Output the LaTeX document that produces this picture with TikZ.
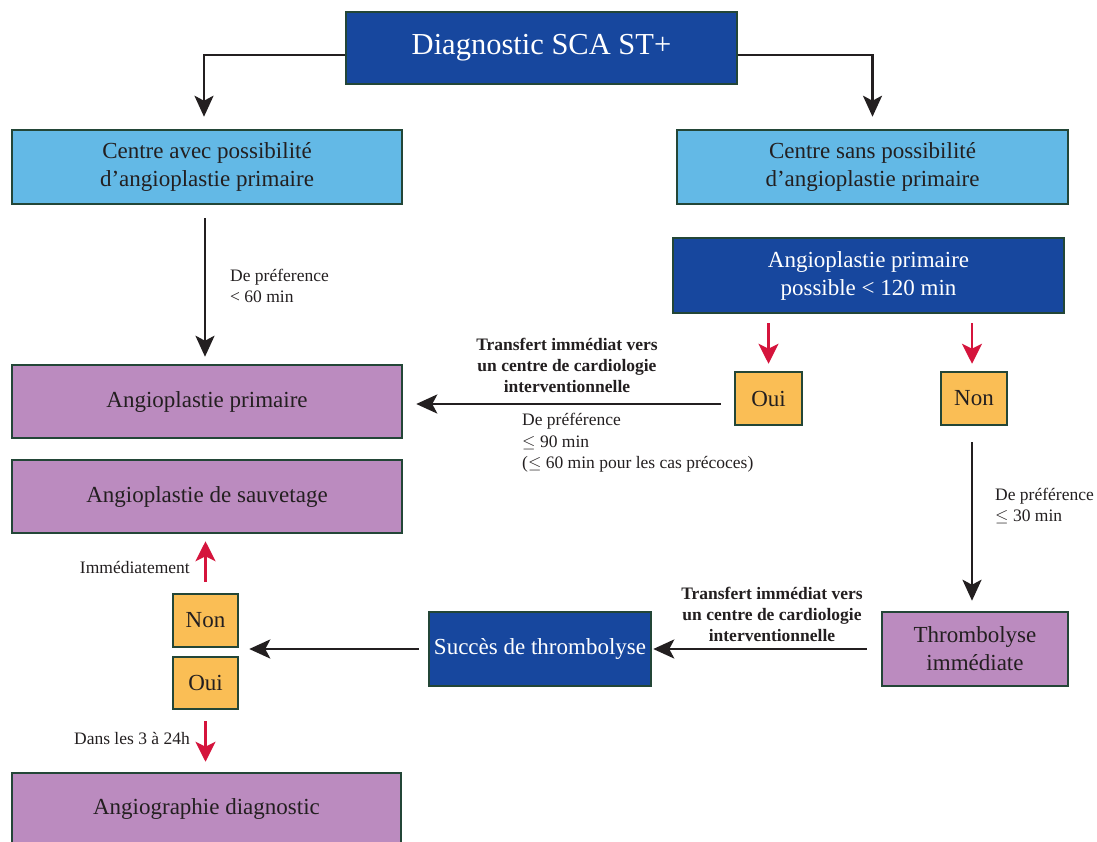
\documentclass[tikz,border=0pt]{standalone}
\usepackage{fontspec}
\setmainfont{Liberation Serif}
\usetikzlibrary{arrows.meta}
\definecolor{dblue}{RGB}{23,71,158}
\definecolor{lblue}{RGB}{99,185,230}
\definecolor{mauve}{RGB}{187,139,191}
\definecolor{oran}{RGB}{250,190,85}
\definecolor{bord}{RGB}{35,70,55}
\definecolor{redar}{RGB}{213,20,60}
\definecolor{txt}{RGB}{35,31,32}
\tikzset{
  box/.style={draw=bord, line width=2.5pt, rectangle, inner sep=2pt, align=center, text=txt,
    font=\fontsize{23}{28}\selectfont},
  bluebox/.style={box, fill=dblue, text=white},
  skybox/.style={box, fill=lblue},
  mbox/.style={box, fill=mauve},
  obox/.style={box, fill=oran},
  arr/.style={draw=txt, line width=2.8pt, -{Stealth[length=21pt,width=19pt,inset=5pt]}},
  rarr/.style={draw=redar, line width=2.8pt, -{Stealth[length=20pt,width=20pt,inset=5pt]}},
  lbl/.style={text=txt, align=left, inner sep=0pt, font=\fontsize{17.5}{21.5}\selectfont},
  blbl/.style={text=txt, align=center, inner sep=0pt, font=\fontsize{17.5}{21}\selectfont\bfseries},
}
\begin{document}
\begin{tikzpicture}[x=1pt,y=-1pt]
\useasboundingbox (0,0) rectangle (1097,841);
\fill[white] (0,0) rectangle (1097,841);

\node[bluebox, minimum width=391pt, minimum height=72pt, font=\fontsize{30.5}{36}\selectfont] (diag) at (541.5,48) {Diagnostic SCA ST+};
\node[skybox, minimum width=390pt, minimum height=74pt] (cavec) at (207,167) {Centre avec possibilité\\d’angioplastie primaire};
\node[skybox, minimum width=391pt, minimum height=74pt] (csans) at (872.5,167) {Centre sans possibilité\\d’angioplastie primaire};
\node[bluebox, minimum width=391pt, minimum height=75pt] (apposs) at (868.5,275.5) {Angioplastie primaire\\possible < 120 min};
\node[obox, minimum width=67pt, minimum height=53pt] (ouiR) at (768.5,398.5) {Oui};
\node[obox, minimum width=66pt, minimum height=53pt] (nonR) at (974,398.5) {Non};
\node[mbox, minimum width=390pt, minimum height=73pt] (angprim) at (207,401.5) {Angioplastie primaire};
\node[mbox, minimum width=390pt, minimum height=73pt] (sauv) at (207,496.5) {Angioplastie de sauvetage};
\node[obox, minimum width=65pt, minimum height=53pt] (nonL) at (205.5,620.5) {Non};
\node[obox, minimum width=65pt, minimum height=52pt] (ouiL) at (205.5,683) {Oui};
\node[mbox, minimum width=389pt, minimum height=74pt] (angio) at (206.5,810) {};
\node[text=txt, font=\fontsize{23}{28}\selectfont] (angiot) at (206.5,809) {Angiographie diagnostic};
\node[bluebox, minimum width=222pt, minimum height=74pt] (succes) at (540,649) {Succès de thrombolyse};
\node[mbox, minimum width=186pt, minimum height=74pt] (thromb) at (975,649) {Thrombolyse\\immédiate};

% top elbows
\draw[arr] ([yshift=-7pt]diag.west) -| ([xshift=-3pt,yshift=12pt]cavec.north);
\draw[arr] ([yshift=-7pt]diag.east) -| ([yshift=12pt]csans.north);

% left vertical
\draw[arr, shorten <=13pt, shorten >=7pt] ([xshift=-2pt]cavec.south) -- ([xshift=-2pt]angprim.north);
\node[lbl, anchor=west] (l1) at (230,286) {De préference\\< 60 min};

% red arrows from apposs
\draw[rarr, shorten <=9pt, shorten >=7pt] (ouiR.north |- apposs.south) -- (ouiR.north);
\draw[rarr, shorten <=9pt, shorten >=7pt] ([xshift=-2pt]nonR.north |- apposs.south) -- ([xshift=-2pt]nonR.north);

% Oui -> angioplastie primaire
\draw[arr, shorten <=13pt, shorten >=13pt] ([yshift=-5.5pt]ouiR.west) -- ([yshift=-5.5pt]ouiR.west -| angprim.east);
\node[blbl] (t1) at (567,365) {Transfert immédiat vers\\un centre de cardiologie\\interventionnelle};
\node[lbl, anchor=north west] (l2) at (522,413) {De préférence\\$\leq$ 90 min\\($\leq$ 60 min pour les cas précoces)};

% Non -> thrombolyse
\draw[arr, shorten <=16pt, shorten >=10pt] ([xshift=-2pt]nonR.south) -- ([xshift=-2pt]nonR.south |- thromb.north);
\node[lbl, anchor=west] (l3) at (995,506) {De préférence\\$\leq$ 30 min};

% thrombolyse -> succes
\draw[arr, shorten <=14pt, shorten >=1pt] (thromb.west) -- (succes.east);
\node[blbl] (t2) at (772,614) {Transfert immédiat vers\\un centre de cardiologie\\interventionnelle};

% succes -> non/oui
\draw[arr, shorten <=9pt, shorten >=10pt] (succes.west) -- (nonL.east |- succes.west);

% red left
\draw[rarr, shorten <=11pt, shorten >=7pt] (nonL.north) -- (nonL.north |- sauv.south);
\node[lbl, anchor=east] (l4) at (190,567) {Immédiatement};
\draw[rarr, shorten <=11pt, shorten >=10pt] (ouiL.south) -- (ouiL.south |- angio.north);
\node[lbl, anchor=east] (l5) at (190,738) {Dans les 3 à 24h};
\end{tikzpicture}
\end{document}
